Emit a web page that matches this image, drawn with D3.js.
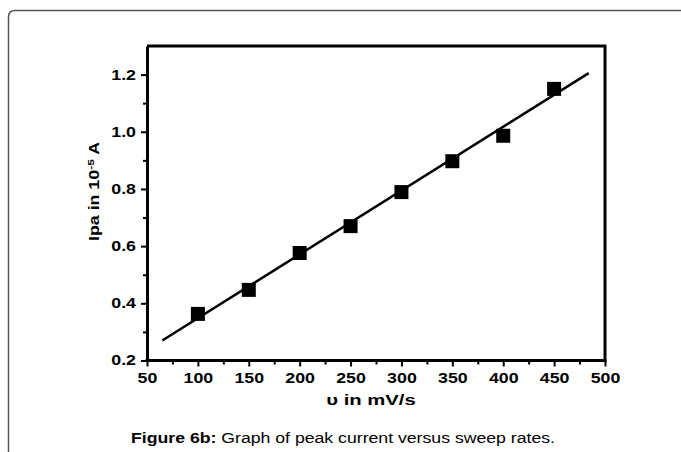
<!DOCTYPE html>
<html>
<head>
<meta charset="utf-8">
<script src="https://cdn.jsdelivr.net/npm/d3@7"></script>
<style>
  body { margin: 0; background: #fff; }
  svg { display: block; font-family: "Liberation Sans", Arial, sans-serif; }
</style>
</head>
<body>
<div class="chart"></div>
<script>
// data
const sweepRates = [100, 150, 200, 250, 300, 350, 400, 450];
const peakCurrent = [0.363, 0.447, 0.576, 0.670, 0.789, 0.897, 0.986, 1.150];
const fitX = [65, 484];
const fitY = [0.27, 1.205];
const xTicks = [50, 100, 150, 200, 250, 300, 350, 400, 450, 500];
const xMinor = [75, 125, 175, 225, 275, 325, 375, 425, 475];
const yTicks = [0.2, 0.4, 0.6, 0.8, 1.0, 1.2];
const yMinor = [0.3, 0.5, 0.7, 0.9, 1.1];

const width = 681, height = 452;
const stretch = 1.27; // the figure's lettering is wide
const svg = d3.select('.chart')
    .append('svg')
    .attr('width', width)
    .attr('height', height);

// outer frame (open at the bottom and right)
svg.append('path')
    .attr('d', 'M8.5,452 L8.5,17 Q8.5,10.5 15,10.5 L681,10.5')
    .attr('fill', 'none')
    .attr('stroke', '#555')
    .attr('stroke-width', 1.5);

const pLeft = 147, pRight = 605, pTop = 46, pBottom = 360.5;
const x = d3.scaleLinear().domain([50, 500]).range([pLeft, pRight]);
const y = d3.scaleLinear().domain([0.2, 1.3]).range([pBottom, pTop]);

// minor ticks
svg.append('g')
    .attr('transform', `translate(0, ${pBottom})`)
    .call(d3.axisBottom(x).tickValues(xMinor).tickSize(4).tickSizeOuter(0).tickFormat(''))
    .call(g => g.select('.domain').remove())
    .selectAll('line').attr('stroke-width', 2);
svg.append('g')
    .attr('transform', `translate(${pLeft}, 0)`)
    .call(d3.axisLeft(y).tickValues(yMinor).tickSize(4).tickSizeOuter(0).tickFormat(''))
    .call(g => g.select('.domain').remove())
    .selectAll('line').attr('stroke-width', 2);

// major axes
let xAxis = svg.append('g')
    .attr('transform', `translate(0, ${pBottom})`)
    .call(d3.axisBottom(x).tickValues(xTicks).tickSize(6).tickSizeOuter(0).tickPadding(7));
let yAxis = svg.append('g')
    .attr('transform', `translate(${pLeft}, 0)`)
    .call(d3.axisLeft(y).tickValues(yTicks).tickSize(6).tickSizeOuter(0).tickPadding(5)
        .tickFormat(d3.format('.1f')));
[xAxis, yAxis].forEach(g => {
    g.selectAll('line').attr('stroke-width', 2);
    g.selectAll('text')
        .attr('font-size', 14)
        .attr('font-weight', 'bold')
        .attr('font-family', '"Liberation Sans", Arial, sans-serif')
        .attr('fill', '#000')
        .attr('transform', `scale(${stretch},1)`);
    g.select('.domain').attr('stroke-width', 3);
});
yAxis.selectAll('text').attr('x', -11 / stretch);
xAxis.select('.domain').attr('d', `M${pLeft - 1.5},0H${pRight + 1.5}`);

// top and right frame of the plot
svg.append('path')
    .attr('d', `M${pLeft},${pTop}H${pRight}V${pBottom}`)
    .attr('fill', 'none')
    .attr('stroke', '#000')
    .attr('stroke-width', 3);

// fitted line
svg.append('path')
    .datum(fitX.map((d, i) => [d, fitY[i]]))
    .attr('d', d3.line().x(d => x(d[0])).y(d => y(d[1])))
    .attr('fill', 'none')
    .attr('stroke', '#000')
    .attr('stroke-width', 2.5);

// data markers
svg.append('g')
    .selectAll('rect')
    .data(sweepRates)
    .join('rect')
    .attr('x', d => x(d) - 7)
    .attr('y', (d, i) => y(peakCurrent[i]) - 7)
    .attr('width', 14)
    .attr('height', 14)
    .attr('fill', '#000');

// axis titles
svg.append('text')
    .attr('transform', `translate(371, 405) scale(1.4,1)`)
    .attr('text-anchor', 'middle')
    .attr('font-size', 14.5)
    .attr('font-weight', 'bold')
    .text('υ in mV/s');

let yTitle = svg.append('text')
    .attr('transform', `translate(99, 191.5) rotate(-90) scale(${stretch},1)`)
    .attr('text-anchor', 'middle')
    .attr('font-size', 14)
    .attr('font-weight', 'bold');
yTitle.append('tspan').text('Ipa in 10');
yTitle.append('tspan').attr('dy', -5).attr('font-size', 9.5).text('-5');
yTitle.append('tspan').attr('dy', 5).text(' A');

// caption
let caption = svg.append('text')
    .attr('transform', 'translate(343, 443) scale(1.14,1)')
    .attr('text-anchor', 'middle')
    .attr('font-size', 15.5);
caption.append('tspan').attr('font-weight', 'bold').text('Figure 6b:');
caption.append('tspan').text(' Graph of peak current versus sweep rates.');
</script>
</body>
</html>
